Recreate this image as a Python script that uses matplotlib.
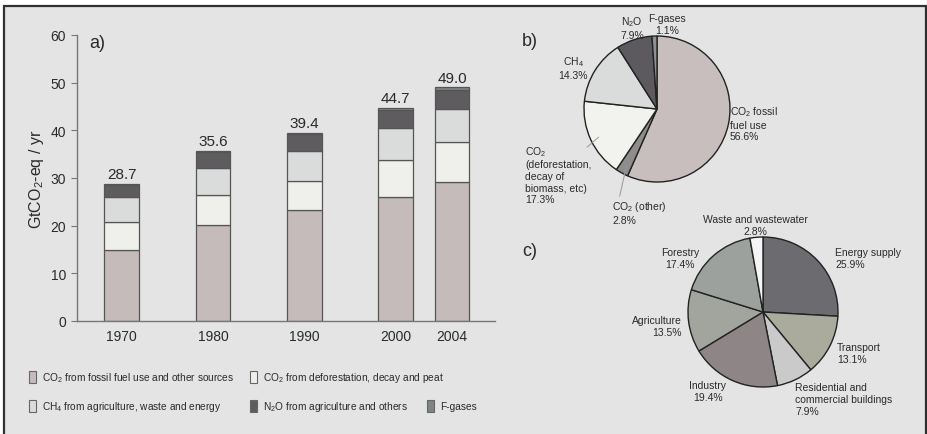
import matplotlib
matplotlib.use("Agg")
import matplotlib.pyplot as plt
from matplotlib.patches import Rectangle
import numpy as np

plt.rcParams['font.family'] = ['Liberation Sans', 'DejaVu Sans']
plt.rcParams['mathtext.default'] = 'regular'

# a) emissions by gas, GtCO2-eq / yr
years = ['1970', '1980', '1990', '2000', '2004']
totals = ['28.7', '35.6', '39.4', '44.7', '49.0']
co2_fossil = [14.9, 20.2, 23.3, 26.1, 29.2]
co2_defor = [5.9, 6.3, 6.1, 7.7, 8.4]
ch4 = [5.3, 5.7, 6.3, 6.7, 6.9]
n2o = [2.5, 3.2, 3.5, 3.8, 4.0]
fgas = [0.1, 0.2, 0.2, 0.4, 0.5]

series_labels = [r'CO$_2$ from fossil fuel use and other sources',
                 r'CO$_2$ from deforestation, decay and peat',
                 r'CH$_4$ from agriculture, waste and energy',
                 r'N$_2$O from agriculture and others',
                 'F-gases']
series_colors = ['#c6bbbb', '#efefeb', '#dadcdc', '#5f5c60', '#7d8587']

# b) share of gases in 2004
gas_labels = [r'CO$_2$ fossil' + '\nfuel use\n56.6%', r'CO$_2$ (other)' + '\n2.8%',
              r'CO$_2$' + '\n(deforestation,\ndecay of\nbiomass, etc)\n17.3%',
              r'CH$_4$' + '\n14.3%', r'N$_2$O' + '\n7.9%', 'F-gases\n1.1%']
gas_share = [56.6, 2.8, 17.3, 14.3, 7.9, 1.1]
gas_colors = ['#c8bebe', '#8f8c8c', '#f2f2ee', '#dadcdc', '#5c5a5e', '#8c9294']

# c) share of sectors in 2004
sector_labels = ['Energy supply\n25.9%', 'Transport\n13.1%',
                 'Residential and\ncommercial buildings\n7.9%', 'Industry\n19.4%',
                 'Agriculture\n13.5%', 'Forestry\n17.4%', 'Waste and wastewater\n2.8%']
sector_share = [25.9, 13.1, 7.9, 19.4, 13.5, 17.4, 2.8]
sector_colors = ['#6b6b70', '#aaaa9d', '#cacaca', '#8e8586', '#a2a59e', '#9ca19d', '#f5f5f5']

W, H = 927, 435
BG = '#e4e4e4'
TXT = '#2a2a2a'


def fx(x):
    return x / W


def fy(y):
    return 1 - y / H


fig = plt.figure(figsize=(W / 100, H / 100), dpi=100, facecolor='white')
# frame around the whole figure, kept behind everything
fig.patches.append(Rectangle((fx(4), -0.02), fx(922), (H - 7) / H + 0.02,
                             transform=fig.transFigure, facecolor=BG,
                             edgecolor='#303030', lw=1.6, zorder=-10))

# ---- a) stacked bars
ax = fig.add_axes([fx(77), fy(322), fx(495 - 77), (322 - 36) / H])
ax.patch.set_visible(False)
pos = np.array([0, 1, 2, 3, 3.62])
bottom = np.zeros(len(years))
for vals, col in zip([co2_fossil, co2_defor, ch4, n2o, fgas], series_colors):
    ax.bar(pos, vals, bottom=bottom, width=0.38, color=col,
           edgecolor='#555555', linewidth=0.9)
    bottom += np.array(vals)
for p, b, t in zip(pos, bottom, totals):
    ax.text(p, b + 0.6, t, ha='center', va='bottom', fontsize=11, color=TXT)
ax.set_xlim(-0.49, 4.09)
ax.set_ylim(0, 60)
ax.set_yticks(range(0, 61, 10))
ax.set_xticks(pos)
ax.set_xticklabels(years)
ax.tick_params(axis='y', length=4, color='#777777', labelsize=10, labelcolor=TXT, pad=4)
ax.tick_params(axis='x', length=0, labelsize=10, labelcolor=TXT, pad=6)
for s in ['top', 'right']:
    ax.spines[s].set_visible(False)
for s in ['left', 'bottom']:
    ax.spines[s].set_color('#777777')
    ax.spines[s].set_linewidth(1.0)
ax.set_ylabel(r'GtCO$_2$-eq / yr', fontsize=11.5, color=TXT, labelpad=3)
fig.text(fx(89), fy(43), 'a)', fontsize=13, color=TXT, va='center')

# legend, laid out by hand as in the original
legend_spots = [(29, 378), (250, 378), (29, 407), (250, 407), (427, 407)]
for (lx, ly), lab, col in zip(legend_spots, series_labels, series_colors):
    fig.patches.append(Rectangle((fx(lx), fy(ly + 6)), fx(7), 12 / H,
                                 transform=fig.transFigure, facecolor=col,
                                 edgecolor='#666666', lw=0.8, zorder=2))
    fig.text(fx(lx + 13), fy(ly), lab, fontsize=7.3, color=TXT, va='center')

# ---- b) pie of gases
rb = 73
axb = fig.add_axes([fx(657 - rb), fy(110 + rb), fx(2 * rb), 2 * rb / H])
axb.pie(gas_share, colors=gas_colors, startangle=90, counterclock=False,
        wedgeprops=dict(edgecolor='#222222', linewidth=1.0))
axb.set_xlim(-1, 1)
axb.set_ylim(-1, 1)
axb.axis('off')
fig.text(fx(522), fy(42), 'b)', fontsize=13, color=TXT, va='center')

gas_text = [(730, 124, 'left'), (612, 213, 'left'), (525, 175, 'left'),
            (573, 68, 'center'), (632, 28, 'center'), (667, 25, 'center')]
for (tx, ty, ha), lab in zip(gas_text, gas_labels):
    fig.text(fx(tx), fy(ty), lab, fontsize=7.5, color=TXT, ha=ha, va='center',
             linespacing=1.2)

# leader lines for the two lower slices
ang = 90 - np.cumsum([0] + gas_share[:-1]) * 3.6 - np.array(gas_share) * 1.8
for i, (tx, ty) in [(1, (619, 200)), (2, (585, 150))]:
    a = np.deg2rad(ang[i])
    axb.annotate('', xy=(0.85 * np.cos(a), 0.85 * np.sin(a)),
                 xytext=(fx(tx), fy(ty)), textcoords='figure fraction',
                 arrowprops=dict(arrowstyle='-', color='#999999', lw=0.7))

# ---- c) pie of sectors
rc = 75
axc = fig.add_axes([fx(763 - rc), fy(313 + rc), fx(2 * rc), 2 * rc / H])
axc.pie(sector_share, colors=sector_colors, startangle=90, counterclock=False,
        wedgeprops=dict(edgecolor='#222222', linewidth=1.0))
axc.set_xlim(-1, 1)
axc.set_ylim(-1, 1)
axc.axis('off')
fig.text(fx(522), fy(252), 'c)', fontsize=13, color=TXT, va='center')

sector_text = [(835, 259, 'left'), (837, 354, 'left'), (795, 400, 'left'),
               (708, 392, 'center'), (682, 327, 'right'), (680, 259, 'center'),
               (755, 226, 'center')]
for (tx, ty, ha), lab in zip(sector_text, sector_labels):
    fig.text(fx(tx), fy(ty), lab, fontsize=7.5, color=TXT, ha=ha, va='center',
             linespacing=1.2)

fig.savefig('out.png', dpi=100, facecolor='white')
